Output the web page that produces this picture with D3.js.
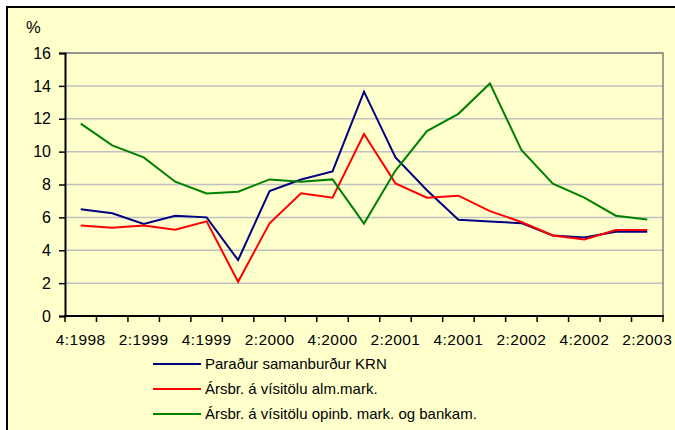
<!DOCTYPE html>
<html>
<head>
<meta charset="utf-8">
<script src="https://cdn.jsdelivr.net/npm/d3@7"></script>
<style>
body { margin: 0; background: #fff; }
svg { display: block; font-family: "Liberation Sans", Arial, sans-serif; }
</style>
</head>
<body>
<svg id="chart" width="675" height="430"></svg>
<script>
// quarters, 4:1998 .. 2:2003
var quarters = ["4:1998", "1:1999", "2:1999", "3:1999", "4:1999", "1:2000", "2:2000", "3:2000", "4:2000",
  "1:2001", "2:2001", "3:2001", "4:2001", "1:2002", "2:2002", "3:2002", "4:2002", "1:2003", "2:2003"];

var paradur = [6.5, 6.25, 5.6, 6.1, 6.0, 3.4, 7.6, 8.3, 8.8, 13.65, 9.65, 7.65, 5.85, 5.75, 5.65, 4.9, 4.77, 5.12, 5.12];
var almMark = [5.5, 5.37, 5.5, 5.25, 5.76, 2.08, 5.64, 7.46, 7.2, 11.07, 8.07, 7.2, 7.32, 6.38, 5.72, 4.9, 4.65, 5.23, 5.23];
var opinbMark = [11.7, 10.38, 9.65, 8.17, 7.46, 7.56, 8.31, 8.17, 8.31, 5.62, 8.85, 11.25, 12.3, 14.15, 10.1, 8.05, 7.2, 6.1, 5.87];

var seriesNames = ["Paraður samanburður KRN", "Ársbr. á vísitölu alm.mark.", "Ársbr. á vísitölu opinb. mark. og bankam."];
var seriesColors = ["#000080", "#ff0000", "#008000"];
var yTicks = [0, 2, 4, 6, 8, 10, 12, 14, 16];

(function () {
var svg = d3.select("#chart");

// background box
svg.append("rect")
  .attr("x", 7).attr("y", 7)
  .attr("width", 700).attr("height", 460)
  .attr("fill", "#ffffcc")
  .attr("stroke", "#000")
  .attr("stroke-width", 2)

var pLeft = 65, pRight = 663, pTop = 53, pBottom = 316;

var x = d3.scaleBand()
  .domain(quarters)
  .range([pLeft, pRight])
  .padding(0)

var y = d3.scaleLinear()
  .domain([0, 16])
  .range([pBottom, pTop])

// gridlines
svg.append("g")
  .selectAll("line")
  .data(yTicks.filter(function (d) { return d > 0 }))
  .enter()
  .append("line")
  .attr("x1", pLeft).attr("x2", pRight)
  .attr("y1", function (d) { return y(d) })
  .attr("y2", function (d) { return y(d) })
  .attr("stroke", "#c0c0c0")
  .attr("stroke-width", 1.5)

// plot frame (top + right in grey)
svg.append("path")
  .attr("d", "M" + pLeft + "," + pTop + "H" + pRight + "V" + pBottom)
  .attr("fill", "none")
  .attr("stroke", "#808080")
  .attr("stroke-width", 1.5)

// y axis
var yAxis = svg.append("g")
  .attr("transform", "translate(" + pLeft + ",0)")
  .call(d3.axisLeft(y).tickValues(yTicks).tickSize(6).tickPadding(8))
yAxis.select(".domain").attr("stroke", "#000").attr("stroke-width", 2)
yAxis.selectAll(".tick line").attr("stroke", "#000").attr("stroke-width", 1.5)
yAxis.selectAll("text")
  .attr("font-size", 16)
  .attr("fill", "#000")
  .style("font-family", "Liberation Sans, Arial, sans-serif")

// x axis, ticks on the category boundaries
var boundaries = quarters.map(function (q) { return x(q) }).concat([pRight]);
var xg = svg.append("g")
svg.append("line")
  .attr("x1", pLeft - 1).attr("x2", pRight + 1)
  .attr("y1", pBottom).attr("y2", pBottom)
  .attr("stroke", "#000").attr("stroke-width", 2)
xg.selectAll("line")
  .data(boundaries)
  .enter()
  .append("line")
  .attr("x1", function (d) { return d }).attr("x2", function (d) { return d })
  .attr("y1", pBottom).attr("y2", pBottom + 6)
  .attr("stroke", "#000").attr("stroke-width", 1.5)
xg.selectAll("text")
  .data(quarters.filter(function (d, i) { return i % 2 === 0 }))
  .enter()
  .append("text")
  .attr("x", function (d) { return x(d) + x.bandwidth() / 2 })
  .attr("y", 345)
  .attr("text-anchor", "middle")
  .attr("font-size", 15.5)
  .attr("letter-spacing", 0.4)
  .text(function (d) { return d })

// unit label
svg.append("text")
  .attr("x", 26).attr("y", 33)
  .attr("font-size", 16.5)
  .text("%")

// lines
var line = d3.line()
  .x(function (d, i) { return x(quarters[i]) + x.bandwidth() / 2 })
  .y(function (d) { return y(d) })

svg.selectAll(".series")
  .data([paradur, almMark, opinbMark])
  .enter()
  .append("path")
  .attr("class", "series")
  .attr("d", line)
  .attr("fill", "none")
  .attr("stroke", function (d, i) { return seriesColors[i] })
  .attr("stroke-width", 2)

// legend
var legend = svg.append("g")
legend.selectAll("line")
  .data(seriesNames)
  .enter()
  .append("line")
  .attr("x1", 153).attr("x2", 201)
  .attr("y1", function (d, i) { return 364 + i * 25 })
  .attr("y2", function (d, i) { return 364 + i * 25 })
  .attr("stroke", function (d, i) { return seriesColors[i] })
  .attr("stroke-width", 2)
legend.selectAll("text")
  .data(seriesNames)
  .enter()
  .append("text")
  .attr("x", 205)
  .attr("y", function (d, i) { return 364 + i * 25 })
  .attr("dy", "0.35em")
  .attr("font-size", 15)
  .text(function (d) { return d })
})();
</script>
</body>
</html>
